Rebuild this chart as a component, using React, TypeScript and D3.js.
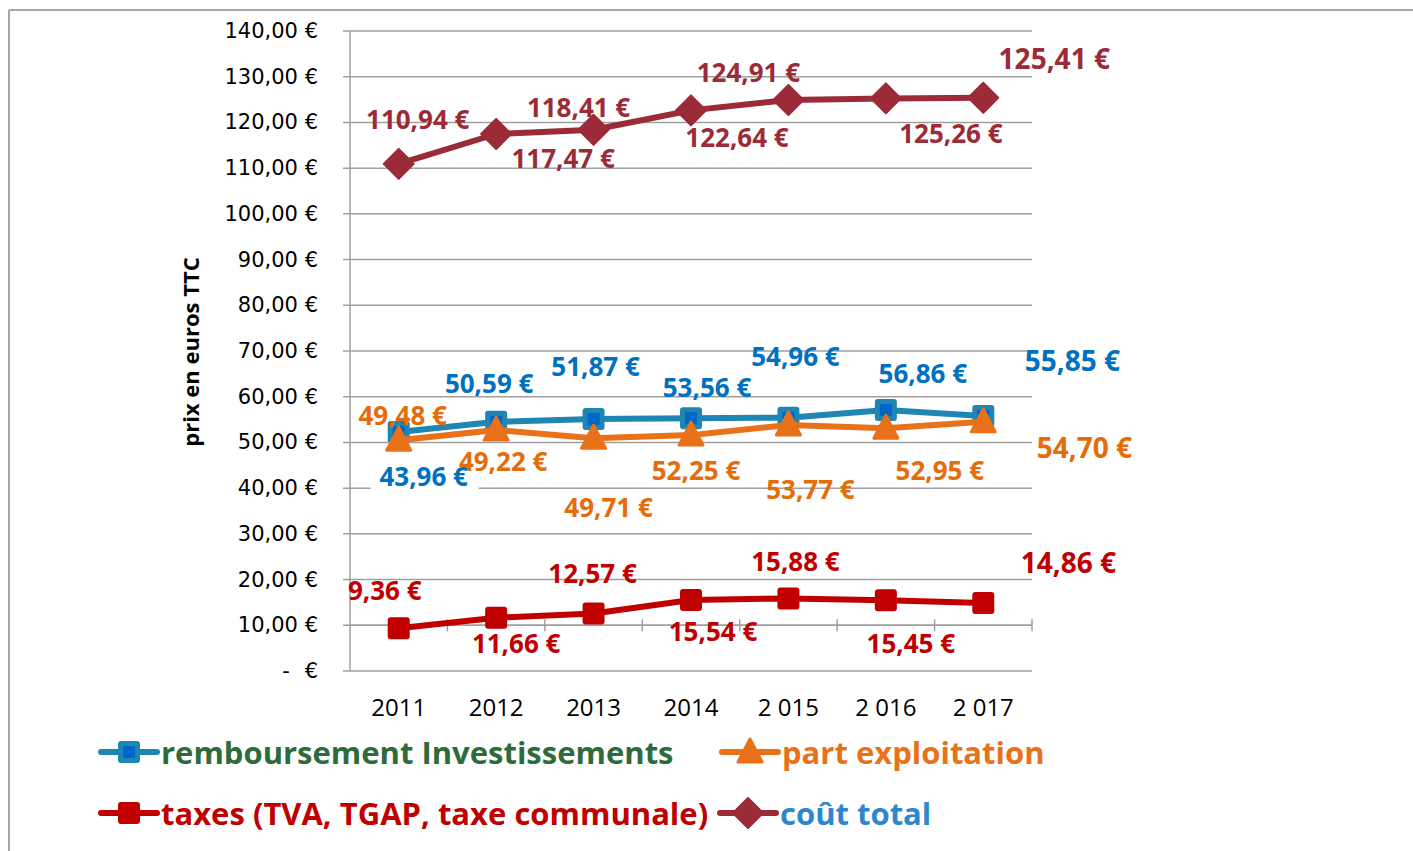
import React from 'react'
import * as d3 from 'd3'

// categories and series
const years = ['2011', '2012', '2013', '2014', '2 015', '2 016', '2 017']
const yTicks = [0, 10, 20, 30, 40, 50, 60, 70, 80, 90, 100, 110, 120, 130, 140]

const remboursement = [52.3, 54.5, 55.1, 55.3, 55.4, 57.1, 55.8]
const exploitation = [50.5, 52.7, 50.9, 51.6, 53.8, 53.1, 54.5]
const taxes = [9.36, 11.66, 12.57, 15.54, 15.88, 15.45, 14.86]
const coutTotal = [110.94, 117.47, 118.41, 122.64, 124.91, 125.26, 125.41]

// data labels as printed on the chart
const remboursementLabels = ['43,96 €', '50,59 €', '51,87 €', '53,56 €', '54,96 €', '56,86 €', '55,85 €']
const exploitationLabels = ['49,48 €', '49,22 €', '49,71 €', '52,25 €', '53,77 €', '52,95 €', '54,70 €']
const taxesLabels = ['9,36 €', '11,66 €', '12,57 €', '15,54 €', '15,88 €', '15,45 €', '14,86 €']
const coutTotalLabels = ['110,94 €', '117,47 €', '118,41 €', '122,64 €', '124,91 €', '125,26 €', '125,41 €']

// label placement (px offset from the marker)
const remboursementOffsets = [[25, 44], [-7, -39], [2, -53], [16, -31], [7, -62], [37, -37], [89, -56]]
const exploitationOffsets = [[4, -25], [7, 31], [15, 69], [5, 35], [22, 64], [54, 42], [101, 25]]
const taxesOffsets = [[-14, -38], [20, 25], [-1, -41], [22, 31], [7, -37], [25, 43], [85, -41]]
const coutTotalOffsets = [[19, -45], [67, 24], [-15, -23], [46, 27], [-40, -28], [65, 35], [71, -40]]

const FONT = '"Open Sans", sans-serif'

const series = [
  { name: 'remboursement Investissements', values: remboursement, labels: remboursementLabels, offsets: remboursementOffsets, line: '#1f86b3', labelColor: '#0070c0', legendColor: '#2e6b3c', marker: 'squareBlue' },
  { name: 'part exploitation', values: exploitation, labels: exploitationLabels, offsets: exploitationOffsets, line: '#e8711a', labelColor: '#e46c0a', legendColor: '#e8711a', marker: 'triangle' },
  { name: 'taxes (TVA, TGAP, taxe communale)', values: taxes, labels: taxesLabels, offsets: taxesOffsets, line: '#c00000', labelColor: '#c00000', legendColor: '#c00000', marker: 'squareRed' },
  { name: 'coût total', values: coutTotal, labels: coutTotalLabels, offsets: coutTotalOffsets, line: '#9b2b37', labelColor: '#9b2b37', legendColor: '#2e86cc', marker: 'diamond' },
]

const Marker = ({ type, cx, cy, color }) => {
  if (type === 'squareBlue') {
    return (
      <g>
        <rect x={cx - 11} y={cy - 11} width={22} height={22} rx={3} fill={color} />
        <rect x={cx - 6} y={cy - 6} width={12} height={12} fill="#0066c8" />
      </g>
    )
  }
  if (type === 'squareRed') {
    return <rect x={cx - 11} y={cy - 11} width={22} height={22} rx={3} fill={color} />
  }
  if (type === 'triangle') {
    return (
      <path
        d={`M${cx},${cy - 13} L${cx + 12},${cy + 10} L${cx - 12},${cy + 10} Z`}
        fill={color}
        stroke={color}
        strokeWidth={3}
        strokeLinejoin="round"
      />
    )
  }
  return (
    <path
      d={`M${cx},${cy - 15} L${cx + 15},${cy} L${cx},${cy + 15} L${cx - 15},${cy} Z`}
      fill={color}
      stroke={color}
      strokeWidth={2}
      strokeLinejoin="round"
    />
  )
}

export default function App() {
  const width = 1413
  const height = 851
  const left = 350
  const right = 1032
  const top = 31
  const bottom = 671

  const x = d3.scaleBand().domain(years).range([left, right])
  const y = d3.scaleLinear().domain([0, 140]).range([bottom, top])
  const cx = (i) => x(years[i]) + x.bandwidth() / 2

  const line = d3
    .line()
    .x((d, i) => cx(i))
    .y(d => y(d))

  const catAxisY = y(10)
  const legendRows = [
    { y: 752, items: [{ s: series[0], lx: 101 }, { s: series[1], lx: 722 }] },
    { y: 813, items: [{ s: series[2], lx: 101 }, { s: series[3], lx: 720 }] },
  ]

  return (
    <svg width={width} height={height} style={{ position: 'absolute', left: 0, top: 0, background: '#fff' }}>
      {/* frame */}
      <line x1={9} y1={10} x2={width} y2={10} stroke="#a6a6a6" strokeWidth={2} />
      <line x1={9} y1={10} x2={9} y2={height} stroke="#a6a6a6" strokeWidth={2} />

      {/* gridlines + y ticks */}
      {yTicks.map(t => (
        <g key={t}>
          <line x1={left - 7} x2={right} y1={y(t)} y2={y(t)} stroke="#a0a0a0" strokeWidth={1.5} />
          {t === 0 ? (
            <g fontFamily='"DejaVu Sans", sans-serif' fontSize={21} fill="#000">
              <text x={286} y={y(t)} textAnchor="middle" dominantBaseline="central">-</text>
              <text x={318} y={y(t)} textAnchor="end" dominantBaseline="central">€</text>
            </g>
          ) : (
            <text
              x={318}
              y={y(t)}
              textAnchor="end"
              dominantBaseline="central"
              fontFamily='"DejaVu Sans", sans-serif'
              fontSize={21}
              fill="#000"
            >
              {d3.format('.2f')(t).replace('.', ',')} €
            </text>
          )}
        </g>
      ))}
      <line x1={left} x2={left} y1={top} y2={bottom} stroke="#a0a0a0" strokeWidth={1.5} />

      {/* category axis crossing at 10 */}
      <line x1={left} x2={right} y1={catAxisY} y2={catAxisY} stroke="#a0a0a0" strokeWidth={1.5} />
      {years.map((c) => (
        <line
          key={c}
          x1={x(c) + x.bandwidth()}
          x2={x(c) + x.bandwidth()}
          y1={catAxisY - 6}
          y2={catAxisY + 6}
          stroke="#a0a0a0"
          strokeWidth={1.5}
        />
      ))}
      {years.map((c, i) => (
        <text
          key={c}
          x={cx(i)}
          y={706}
          textAnchor="middle"
          dominantBaseline="central"
          fontFamily={FONT}
          fontSize={24}
          fill="#000"
        >
          {c}
        </text>
      ))}

      {/* y title */}
      <text
        transform="translate(190,352) rotate(-90)"
        textAnchor="middle"
        dominantBaseline="central"
        fontFamily={FONT}
        fontWeight={700}
        fontSize={22}
        fill="#000"
      >
        prix en euros TTC
      </text>

      {/* series */}
      {series.map(s => (
        <g key={s.name}>
          <path d={line(s.values)} fill="none" stroke={s.line} strokeWidth={6} strokeLinejoin="round" />
          {s.values.map((v, i) => (
            <Marker key={i} type={s.marker} cx={cx(i)} cy={y(v)} color={s.line} />
          ))}
        </g>
      ))}

      {/* data labels */}
      {series.map(s =>
        s.values.map((v, i) => {
          const lx = cx(i) + s.offsets[i][0]
          const ly = y(v) + s.offsets[i][1]
          const last = i === s.values.length - 1
          const boxed = s.marker === 'squareBlue' && i === 0
          return (
            <g key={s.name + i}>
              {boxed && <rect x={lx - 53} y={ly - 15} width={108} height={30} fill="#fff" />}
              <text
                x={lx}
                y={ly}
                textAnchor="middle"
                dominantBaseline="central"
                fontFamily={FONT}
                fontWeight={700}
                fontSize={last ? 28 : 26}
                fill={s.labelColor}
              >
                {s.labels[i]}
              </text>
            </g>
          )
        })
      )}

      {/* legend */}
      {legendRows.map(row =>
        row.items.map(({ s, lx }) => (
          <g key={s.name}>
            <line x1={lx} x2={lx + 56} y1={row.y} y2={row.y} stroke={s.line} strokeWidth={6} strokeLinecap="round" />
            <Marker type={s.marker} cx={lx + 28} cy={row.y} color={s.line} />
            <text
              x={lx + 60}
              y={row.y}
              dominantBaseline="central"
              fontFamily={FONT}
              fontWeight={700}
              fontSize={31}
              fill={s.legendColor}
            >
              {s.name}
            </text>
          </g>
        ))
      )}
    </svg>
  )
}
